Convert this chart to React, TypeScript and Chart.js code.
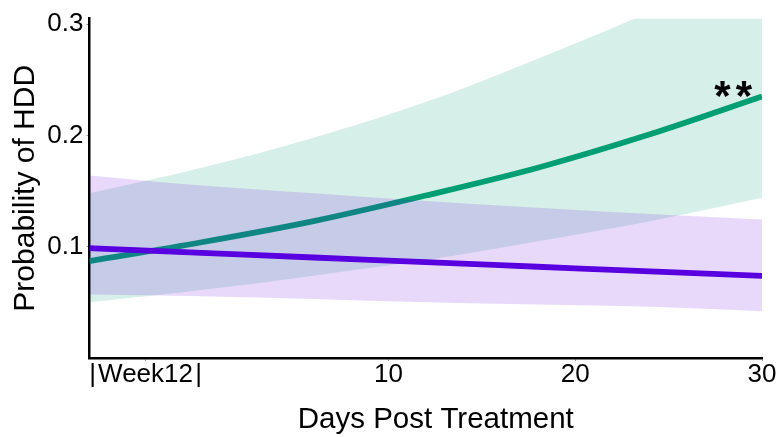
import React, { useEffect, useRef } from 'react';
import { Chart, registerables } from 'chart.js';

Chart.register(...registerables);

// x values (days post treatment; -6 is the start of the Week12 window)
const DAYS = [-6, 0, 6, 12, 18, 24, 30];
// green group: fitted probability and confidence band
const GREEN_FIT = [0.087, 0.104, 0.123, 0.146, 0.171, 0.201, 0.235];
const GREEN_LOW = [0.05, 0.061, 0.074, 0.088, 0.105, 0.123, 0.144];
const GREEN_HIGH = [0.148, 0.171, 0.198, 0.23, 0.269, 0.311, 0.357];
// purple group: fitted probability and confidence band
const PURPLE_FIT = [0.0987, 0.0945, 0.0903, 0.0862, 0.082, 0.0778, 0.0738];
const PURPLE_LOW = [0.057, 0.0555, 0.053, 0.05, 0.048, 0.046, 0.042];
const PURPLE_HIGH = [0.164, 0.155, 0.148, 0.141, 0.135, 0.1295, 0.1245];
// axes
const X_TICKS = [-3, 10, 20, 30];
const X_TICK_LABELS = ['|\u200AWeek12\u200A|', '10', '20', '30'];
const Y_TICKS = [0.1, 0.2, 0.3];
const Y_TICK_LABELS = ['0.1', '0.2', '0.3'];
const X_TITLE = 'Days Post Treatment';
const Y_TITLE = 'Probability of HDD';
// significance annotation
const ANNOT_TEXT = '**';
const ANNOT_X = 27.45;
const ANNOT_Y = 0.2225;

const FONT = '"Liberation Sans", Arial, sans-serif';
const GREEN = '#009E73';
const GREEN_BAND = 'rgba(0,158,115,0.16)';
const PURPLE = '#5800df';
const PURPLE_BAND = 'rgba(100,0,230,0.15)';

const pts = (ys: number[]) => DAYS.map((d, i) => ({ x: d, y: ys[i] }));

const textPlugin = {
  id: 'extraText',
  afterDatasetsDraw(chart: any) {
    const { ctx, scales } = chart;
    ctx.save();
    ctx.font = `bold 42px ${FONT}`;
    (ctx as any).letterSpacing = '5px';
    ctx.fillStyle = '#000';
    ctx.textAlign = 'left';
    ctx.textBaseline = 'alphabetic';
    ctx.fillText(ANNOT_TEXT, scales.x.getPixelForValue(ANNOT_X), scales.y.getPixelForValue(ANNOT_Y));
    ctx.restore();
  },
  afterDraw(chart: any) {
    const { ctx, chartArea } = chart;
    ctx.save();
    ctx.font = `29.5px ${FONT}`;
    ctx.fillStyle = '#000';
    ctx.textAlign = 'center';
    ctx.textBaseline = 'alphabetic';
    ctx.fillText(X_TITLE, (chartArea.left + chartArea.right) / 2 + 10, chartArea.bottom + 70);
    ctx.restore();
  },
};

export default function App() {
  const ref = useRef<HTMLCanvasElement | null>(null);
  useEffect(() => {
    if (!ref.current) return;
    const lineCommon = { pointRadius: 0, cubicInterpolationMode: 'monotone' as const, clip: 0 };
    const chart = new Chart(ref.current, {
      type: 'line',
      data: {
        datasets: [
          { ...lineCommon, data: pts(GREEN_LOW), borderWidth: 0, borderColor: 'transparent', fill: false, order: 8 },
          { ...lineCommon, data: pts(GREEN_HIGH), borderWidth: 0, borderColor: 'transparent', backgroundColor: GREEN_BAND, fill: 0, order: 7 },
          { ...lineCommon, data: pts(GREEN_FIT), borderWidth: 5.8, borderColor: GREEN, fill: false, order: 6 },
          { ...lineCommon, data: pts(PURPLE_LOW), borderWidth: 0, borderColor: 'transparent', fill: false, order: 5 },
          { ...lineCommon, data: pts(PURPLE_HIGH), borderWidth: 0, borderColor: 'transparent', backgroundColor: PURPLE_BAND, fill: 3, order: 4 },
          { ...lineCommon, data: pts(PURPLE_FIT), borderWidth: 5.8, borderColor: PURPLE, fill: false, order: 3 },
        ],
      },
      options: {
        responsive: false,
        animation: false,
        layout: { padding: { top: 15, right: 20, left: 0, bottom: 0 } },
        plugins: { legend: { display: false }, tooltip: { enabled: false } },
        scales: {
          x: {
            type: 'linear',
            min: -6,
            max: 30,
            afterFit: (s: any) => { s.height = 79; },
            afterBuildTicks: (s: any) => { s.ticks = X_TICKS.map((v) => ({ value: v })); },
            grid: { drawOnChartArea: false, drawTicks: true, tickLength: 3, color: '#999', lineWidth: 1 },
            border: { display: true, color: '#000', width: 2.5 },
            ticks: {
              color: '#000',
              font: { family: FONT, size: 26 },
              padding: -2,
              maxRotation: 0,
              autoSkip: false,
              callback: (v: any) => X_TICK_LABELS[X_TICKS.indexOf(Number(v))] ?? '',
            },
            title: { display: false },
          },
          y: {
            type: 'linear',
            min: 0,
            max: 0.305,
            afterFit: (s: any) => { s.width = 89.5; },
            afterBuildTicks: (s: any) => { s.ticks = Y_TICKS.map((v) => ({ value: v })); },
            grid: { drawOnChartArea: false, drawTicks: true, tickLength: 3, color: '#999', lineWidth: 1 },
            border: { display: true, color: '#000', width: 2.5 },
            ticks: {
              color: '#000',
              font: { family: FONT, size: 26 },
              padding: 3,
              callback: (v: any) => Y_TICK_LABELS[Y_TICKS.indexOf(Number(v))] ?? '',
            },
            title: { display: true, text: Y_TITLE, color: '#000', font: { family: FONT, size: 30 }, padding: { top: 8, bottom: 0 } },
          },
        },
      },
      plugins: [textPlugin],
    });
    return () => chart.destroy();
  }, []);
  return (
    <div style={{ position: 'absolute', left: 0, top: 0, width: 782, height: 437, background: '#fff' }}>
      <canvas ref={ref} width={782} height={437} style={{ display: 'block' }} />
    </div>
  );
}
